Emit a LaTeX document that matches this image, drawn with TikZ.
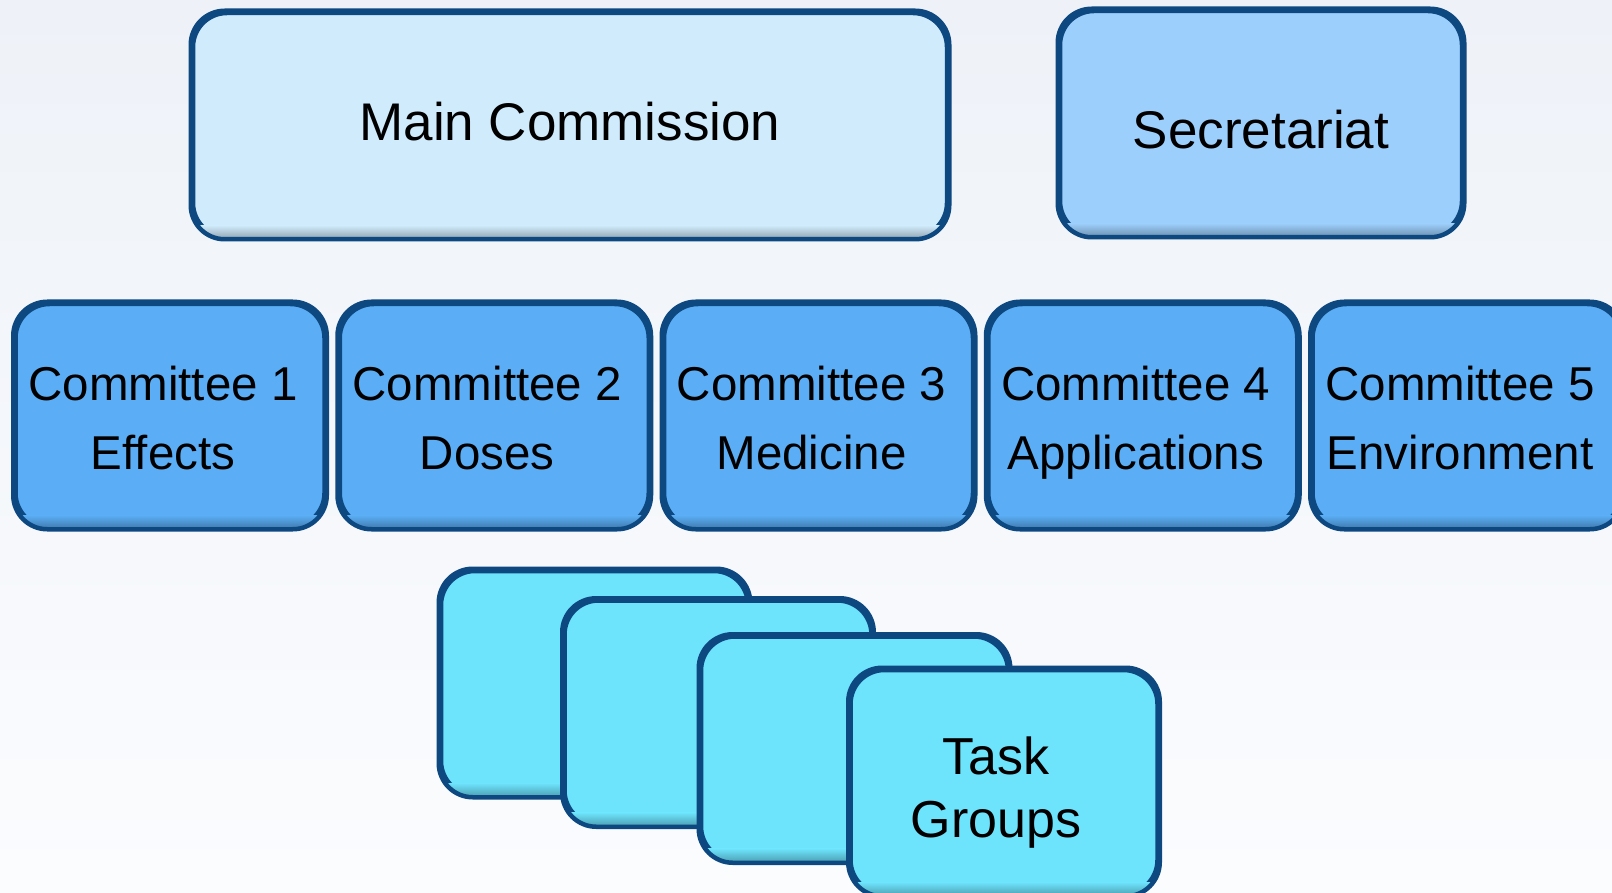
\documentclass[tikz,border=0pt]{standalone}
\usepackage{fontspec}
\setmainfont{Liberation Sans}
\definecolor{edge}{HTML}{0D4880}
\definecolor{mainfill}{HTML}{D0EBFC}
\definecolor{secfill}{HTML}{9DCFFC}
\definecolor{comfill}{HTML}{5BAEF5}
\definecolor{taskfill}{HTML}{6DE3FC}
\definecolor{bgtop}{HTML}{EEF2F8}
\definecolor{bgbot}{HTML}{FBFCFE}
\tikzset{
  box/.style={draw=edge, line width=4.5pt, rounded corners=34pt, inner sep=0pt},
  mainbox/.style={box, fill=mainfill, minimum width=754pt, minimum height=224pt},
  secbox/.style={box, fill=secfill, minimum width=402pt, minimum height=224pt},
  combox/.style={box, fill=comfill, minimum width=309pt, minimum height=223pt},
  taskbox/.style={box, fill=taskfill, minimum width=307pt, minimum height=224pt},
  bigtext/.style={align=center, inner sep=0pt, text=black, font=\fontsize{53}{64}\selectfont},
  comtext/.style={align=center, inner sep=0pt, text=black, font=\fontsize{47.5}{69}\selectfont},
  tasktext/.style={align=center, inner sep=0pt, text=black, font=\fontsize{52}{63}\selectfont}
}
% inner shadow at the bottom of a box, then border redrawn
\newcommand{\boxfx}[2]{%
  \begin{scope}
    \clip[rounded corners=34pt] (#1.south west) rectangle (#1.north east);
    \shade[top color=#2, bottom color=#2!62!black] ([xshift=-4pt,yshift=14pt]#1.south west) rectangle ([xshift=4pt,yshift=-3pt]#1.south east);
  \end{scope}
  \draw[edge, line width=4.5pt, rounded corners=34pt] (#1.south west) rectangle (#1.north east);
}
\begin{document}
\begin{tikzpicture}[x=1pt, y=-1pt]
\useasboundingbox (0,0) rectangle (1612,893);
\clip (0,0) rectangle (1612,893);
\shade[top color=bgtop, bottom color=bgbot] (0,0) rectangle (1612,893);
\node[mainbox] (main) at (570,125) {};
\boxfx{main}{mainfill}
\node[bigtext] (maintext) at (570,121.5) {Main Commission};
\node[secbox] (sec) at (1261,123) {};
\boxfx{sec}{secfill}
\node[bigtext] (sectext) at (1261,130) {Secretariat};
\node[combox] (c1) at (170,415.5) {};
\node[combox] (c2) at (494.25,415.5) {};
\node[combox] (c3) at (818.5,415.5) {};
\node[combox] (c4) at (1142.75,415.5) {};
\node[combox] (c5) at (1467,415.5) {};
\foreach \n in {c1,c2,c3,c4,c5}{\boxfx{\n}{comfill}}
\node[comtext] (c1text) at (163,421) {Committee 1\strut\\Effects\strut};
\node[comtext] (c2text) at (487.25,421) {Committee 2\strut\\Doses\strut};
\node[comtext] (c3text) at (811.5,421) {Committee 3\strut\\Medicine\strut};
\node[comtext] (c4text) at (1135.75,421) {Committee 4\strut\\Applications\strut};
\node[comtext] (c5text) at (1460,421) {Committee 5\strut\\Environment\strut};
\node[taskbox] (t1) at (594.5,683) {};
\boxfx{t1}{taskfill}
\node[taskbox] (t2) at (718,712.5) {};
\boxfx{t2}{taskfill}
\node[taskbox] (t3) at (854.5,748.5) {};
\boxfx{t3}{taskfill}
\node[taskbox] (t4) at (1004,782) {};
\boxfx{t4}{taskfill}
\node[tasktext] (t4text) at (996,793) {Task\strut\\Groups\strut};
\end{tikzpicture}
\end{document}
